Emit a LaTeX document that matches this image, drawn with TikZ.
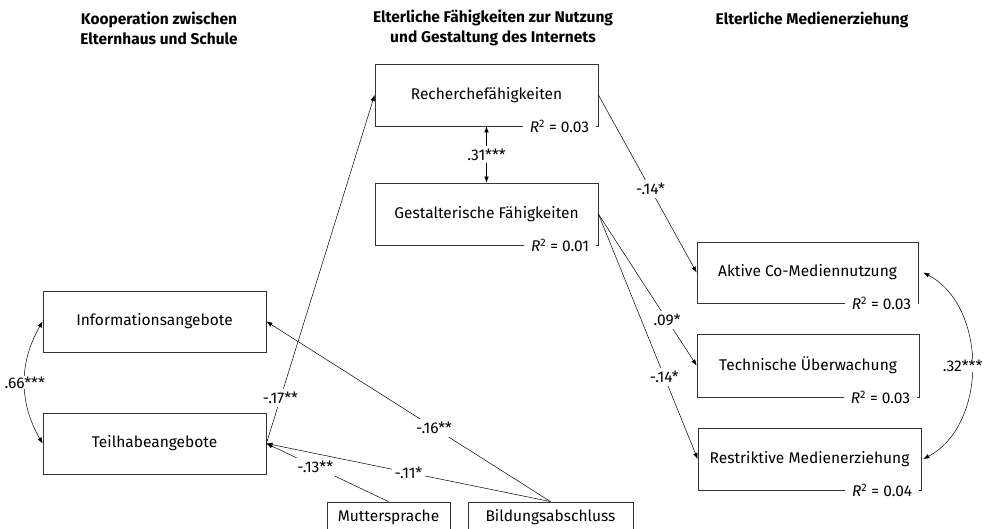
\documentclass[tikz,border=0pt]{standalone}
\usepackage{fontspec}
\setmainfont{Fira Sans}
\usetikzlibrary{arrows.meta}

\begin{document}
\begin{tikzpicture}[x=1pt, y=1pt,
  every node/.style={font=\fontsize{15.5}{20}\selectfont},
  box/.style={draw=black!80, line width=0.8pt, minimum width=223pt, minimum height=62pt, inner sep=0pt},
  effect/.style={-{Latex[length=6pt,width=4.5pt]}, line width=0.5pt},
  corr/.style={{Latex[length=6pt,width=4.5pt]}-{Latex[length=6pt,width=4.5pt]}, line width=0.5pt},
  coef/.style={fill=white, inner sep=3pt},
  rsq/.style={fill=white, anchor=east, inner ysep=1pt, inner xsep=7pt},
  colhead/.style={font=\fontsize{15.5}{20}\selectfont\bfseries, align=center}]
\useasboundingbox (0,0) rectangle (984,529);
\node[colhead] (h1) at (159,501) {Kooperation zwischen\\Elternhaus und Schule};
\node[colhead] (h2) at (493,501) {Elterliche Fähigkeiten zur Nutzung\\und Gestaltung des Internets};
\node[colhead] (h3) at (812,509.5) {Elterliche Medienerziehung};
\node[box] (recherche) at (486.5,434) {Recherchefähigkeiten};
\node[box] (gestalt) at (486.5,315) {Gestalterische Fähigkeiten};
\node[box, minimum height=61pt] (info) at (154.5,207.5) {Informationsangebote};
\node[box, minimum height=61pt] (teil) at (154.5,85.5) {Teilhabeangebote};
\node[box, minimum width=123pt, minimum height=30pt] (mutter) at (388.5,12) {Muttersprache};
\node[box, minimum width=165pt, minimum height=30pt] (bildung) at (550.5,12) {Bildungsabschluss};
\node[box, minimum width=221pt, minimum height=61pt] (aktive) at (807.5,256.5) {Aktive Co-Mediennutzung};
\node[box, minimum width=222pt, minimum height=63pt] (technisch) at (808,163.5) {Technische Überwachung};
\node[box] (restriktiv) at (809.5,70) {Restriktive Medienerziehung};
\node[rsq] (r1) at ([xshift=-2pt]recherche.south east) {\textit{R}\textsuperscript{2} = 0.03\hspace{12pt}};
\node[rsq] (r2) at ([xshift=-2pt]gestalt.south east) {\textit{R}\textsuperscript{2} = 0.01\hspace{7pt}};
\node[rsq] (r3) at ([xshift=0pt]aktive.south east) {\textit{R}\textsuperscript{2} = 0.03\hspace{6pt}};
\node[rsq] (r4) at ([xshift=-2pt]technisch.south east) {\textit{R}\textsuperscript{2} = 0.03\hspace{4pt}};
\node[rsq] (r5) at ([xshift=-2pt]restriktiv.south east) {\textit{R}\textsuperscript{2} = 0.04\hspace{6pt}};
\draw[corr] (recherche.south) -- node[coef]{.31***} (gestalt.north);
\draw[corr] (info.west) to[bend right=30] node[coef, inner sep=1pt]{.66***} (teil.west);
\draw[corr] ([xshift=5pt]aktive.east) to[bend left=62] node[coef, inner sep=0.5pt, xshift=-9pt]{.32***} ([xshift=2pt]restriktiv.east);
\draw[effect] (teil.east) -- node[coef, pos=0.13]{-.17**} (recherche.west);
\draw[effect] (bildung.north) -- node[coef, pos=0.41]{-.16**} (info.east);
\draw[effect] (mutter.north) -- node[coef, pos=0.6]{-.13**} (teil.east);
\draw[effect] (bildung.north) -- node[coef]{-.11*} (teil.east);
\draw[effect] (recherche.east) -- node[coef, pos=0.53]{-.14*} (aktive.west);
\draw[effect] (gestalt.east) -- node[coef, pos=0.7]{.09*} (technisch.west);
\draw[effect] (gestalt.east) -- node[coef, pos=0.665]{-.14*} (restriktiv.west);
\end{tikzpicture}
\end{document}
